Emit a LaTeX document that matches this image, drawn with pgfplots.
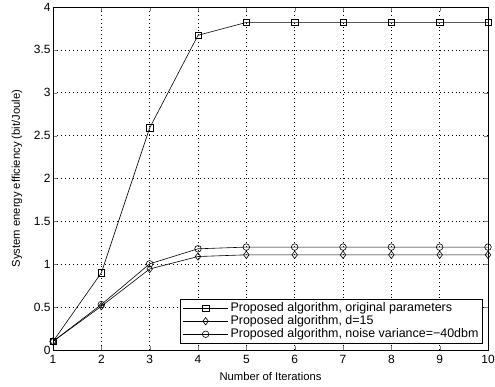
\documentclass[border=0pt]{standalone}
\usepackage{pgfplots}
\pgfplotsset{compat=1.18}
\usepackage{fontspec}
\setmainfont{Liberation Sans}
\begin{document}
\begin{tikzpicture}
\begin{axis}[
  scale only axis,
  width=435bp, height=343bp,
  xmin=1, xmax=10, ymin=0, ymax=4,
  xtick={1,...,10},
  ytick={0,0.5,...,4},
  yticklabels={0,0.5,1,1.5,2,2.5,3,3.5,4},
  tick align=inside,
  tick pos=both,
  major tick length=4pt,
  grid=major,
  major grid style={black, line width=0.5pt, dash pattern=on 0.7pt off 3.3pt},
  axis line style={line width=0.7pt},
  /pgf/number format/assume math mode=true,
  tick label style={font=\fontsize{12}{13}\selectfont},
  xlabel={Number of Iterations},
  ylabel={System energy efficiency (bit/Joule)},
  every axis x label/.style={at={(axis description cs:0.5,0)}, anchor=base, yshift=-31bp,
    font=\fontsize{11.3}{13}\selectfont},
  every axis y label/.style={at={(axis description cs:0,0.5)}, rotate=90, anchor=center,
    yshift=36bp, font=\fontsize{11.3}{13}\selectfont},
  yticklabel style={xshift=1pt},
  xticklabel style={yshift=-2pt},
  legend style={at={(0.988,0.018)}, anchor=south east, draw=black, line width=0.7pt,
    font=\fontsize{12.5}{14}\selectfont, row sep=-1.5pt, inner sep=2pt},
  legend cell align=left,
  legend image code/.code={
    \draw[mark repeat=2,mark phase=2,#1] plot coordinates {(0cm,0cm) (0.8cm,0cm) (1.6cm,0cm)};
  },
]
\addplot[black, line width=0.6pt, mark=square, mark size=3.2pt, mark options={solid}] coordinates {
(1,0.10) (2,0.90) (3,2.59) (4,3.67) (5,3.82) (6,3.82) (7,3.82) (8,3.82) (9,3.82) (10,3.82)};
\addlegendentry{Proposed algorithm, original parameters}
\addplot[black, line width=0.6pt, mark=diamond, mark size=3.7pt] coordinates {
(1,0.10) (2,0.51) (3,0.945) (4,1.09) (5,1.11) (6,1.11) (7,1.11) (8,1.11) (9,1.11) (10,1.11)};
\addlegendentry{Proposed algorithm, d=15}
\addplot[black, line width=0.6pt, mark=o, mark size=3.3pt] coordinates {
(1,0.10) (2,0.53) (3,1.005) (4,1.18) (5,1.20) (6,1.20) (7,1.20) (8,1.20) (9,1.20) (10,1.20)};
\addlegendentry{Proposed algorithm, noise variance=\textminus40dbm}
\end{axis}
\pgfresetboundingbox
\path ([shift={(-53bp,-37bp)}]current axis.south west) rectangle ([shift={(7bp,7bp)}]current axis.north east);
\end{tikzpicture}
\end{document}
